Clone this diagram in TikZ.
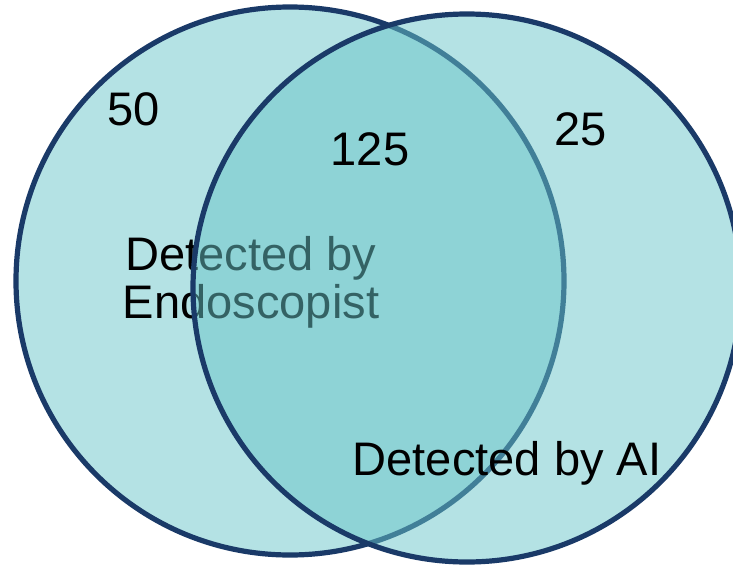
\documentclass[tikz,border=0pt]{standalone}
\usepackage{fontspec}
\setmainfont{Liberation Sans}
\definecolor{navy}{HTML}{1A3A68}
\definecolor{lightfill}{HTML}{B4E2E4}
\definecolor{tealfill}{HTML}{69C5C9}
\tikzset{
  setcircle/.style={draw=navy, line width=3.9pt},
  lbl/.style={inner sep=0pt, font=\fontsize{35.3}{35.5}\selectfont, text=black},
}
\begin{document}
\begin{tikzpicture}[x=0.75pt,y=-0.75pt]
\useasboundingbox (0,0) rectangle (733,565);
\clip (0,0) rectangle (733,565);
\node[setcircle, fill=lightfill, circle, minimum size=548*0.75pt, inner sep=0pt] (endo) at (290,281) {};
\node[lbl, anchor=base] (n50) at (134,125) {50};
\node[lbl, align=center, anchor=base] (endolbl) at (251,318) {Detected by\\Endoscopist};
\node[setcircle, fill=tealfill, fill opacity=0.5, circle, minimum size=548*0.75pt, inner sep=0pt] (ai) at (467,288) {};
\node[lbl, anchor=base] (n125) at (370,165) {125};
\node[lbl, anchor=base] (n25) at (581,145) {25};
\node[lbl, anchor=base] (ailbl) at (507,475) {Detected by AI};
\end{tikzpicture}
\end{document}
